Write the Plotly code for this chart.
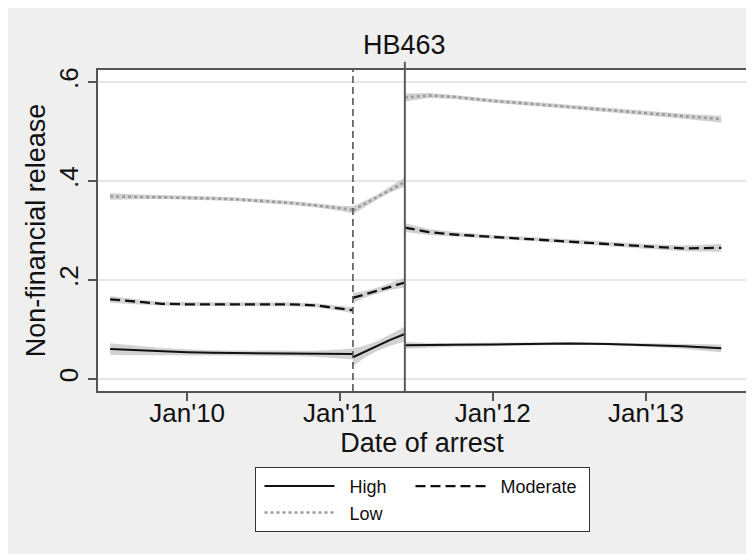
import plotly.graph_objects as go

# ---------------- data ----------------
pre_dates = ["2009-07-01", "2009-09-01", "2009-11-01", "2010-01-01", "2010-03-01", "2010-05-01",
             "2010-07-01", "2010-09-01", "2010-11-01", "2011-01-01", "2011-02-01"]
mid_dates = ["2011-02-01", "2011-03-01", "2011-04-01", "2011-05-01", "2011-06-05"]
post_dates = ["2011-06-05", "2011-08-01", "2011-10-01", "2012-01-01", "2012-04-01", "2012-07-01",
              "2012-10-01", "2013-01-01", "2013-04-01", "2013-06-30"]

high_pre = [0.0605, 0.058, 0.0555, 0.054, 0.053, 0.0525, 0.052, 0.0515, 0.051, 0.0505, 0.0505]
high_pre_hw = [0.012, 0.009, 0.007, 0.006, 0.005, 0.005, 0.005, 0.005, 0.006, 0.009, 0.011]
high_mid = [0.044, 0.055, 0.067, 0.079, 0.091]
high_mid_hw = [0.018, 0.012, 0.010, 0.012, 0.015]
high_post = [0.068, 0.068, 0.069, 0.070, 0.071, 0.072, 0.071, 0.069, 0.066, 0.062]
high_post_hw = [0.007, 0.005, 0.004, 0.003, 0.003, 0.003, 0.003, 0.004, 0.005, 0.008]

mod_pre = [0.161, 0.156, 0.152, 0.151, 0.151, 0.151, 0.151, 0.151, 0.149, 0.143, 0.139]
mod_pre_hw = [0.007, 0.005, 0.004, 0.004, 0.004, 0.004, 0.004, 0.004, 0.004, 0.005, 0.006]
mod_mid = [0.164, 0.171, 0.179, 0.187, 0.195]
mod_mid_hw = [0.010, 0.007, 0.006, 0.007, 0.010]
mod_post = [0.306, 0.297, 0.292, 0.287, 0.283, 0.278, 0.273, 0.268, 0.264, 0.265]
mod_post_hw = [0.009, 0.006, 0.005, 0.004, 0.004, 0.004, 0.004, 0.005, 0.006, 0.008]

low_pre = [0.369, 0.368, 0.368, 0.367, 0.365, 0.363, 0.360, 0.356, 0.351, 0.345, 0.342]
low_pre_hw = [0.007, 0.005, 0.004, 0.004, 0.004, 0.004, 0.004, 0.004, 0.004, 0.005, 0.007]
low_mid = [0.341, 0.354, 0.368, 0.383, 0.398]
low_mid_hw = [0.008, 0.006, 0.005, 0.006, 0.009]
low_post = [0.569, 0.573, 0.570, 0.562, 0.556, 0.550, 0.544, 0.537, 0.531, 0.525]
low_post_hw = [0.008, 0.005, 0.004, 0.004, 0.004, 0.004, 0.004, 0.004, 0.005, 0.007]

law_date = "2011-02-01"        # dashed line
effective_date = "2011-06-05"  # solid line (HB463)

x_tickvals = ["2010-01-01", "2011-01-01", "2012-01-01", "2013-01-01"]
x_ticktext = ["Jan'10", "Jan'11", "Jan'12", "Jan'13"]
y_tickvals = [0, 0.2, 0.4, 0.6]
y_ticktext = ["0", ".2", ".4", ".6"]

# ---------------- figure ----------------
FONT = "Liberation Sans, Arial, Helvetica, sans-serif"
BAND = "rgba(195,195,195,0.75)"
PAD = "\u00a0\u00a0"
TICK_SIZE = 26
TITLE_SIZE = 27

fig = go.Figure()

series = [
    ("High", [high_pre, high_mid, high_post], [high_pre_hw, high_mid_hw, high_post_hw],
     dict(color="#111111", width=2), "g1", 61),
    ("Moderate", [mod_pre, mod_mid, mod_post], [mod_pre_hw, mod_mid_hw, mod_post_hw],
     dict(color="#111111", width=2.3, dash="10px,5px"), "g2", 93),
    ("Low", [low_pre, low_mid, low_post], [low_pre_hw, low_mid_hw, low_post_hw],
     dict(color="#9c9c9c", width=2.6, dash="dot"), "g1", 61),
]
date_sets = [pre_dates, mid_dates, post_dates]

# confidence bands first
for name, ests, hws, line, grp, lw in series:
    for dts, est, hw in zip(date_sets, ests, hws):
        upper = [e + h for e, h in zip(est, hw)]
        lower = [e - h for e, h in zip(est, hw)]
        fig.add_trace(go.Scatter(
            x=list(dts) + list(dts)[::-1], y=upper + lower[::-1],
            fill="toself", fillcolor=BAND, line=dict(width=0),
            mode="lines", showlegend=False, hoverinfo="skip"))

# lines
for name, ests, hws, line, grp, lw in series:
    xs, ys = [], []
    for i, (dts, est) in enumerate(zip(date_sets, ests)):
        if i > 0:
            xs.append(None)
            ys.append(None)
        xs += list(dts)
        ys += list(est)
    fig.add_trace(go.Scatter(x=xs, y=ys, mode="lines", name=PAD + name, line=line,
                             connectgaps=False, legendgroup=grp, legendwidth=lw))

fig.add_shape(type="line", xref="x", yref="paper", x0=law_date, x1=law_date, y0=0, y1=1,
              line=dict(color="#555555", width=1.6, dash="7px,4px"))
fig.add_shape(type="line", xref="x", yref="paper", x0=effective_date, x1=effective_date,
              y0=0, y1=1.026, line=dict(color="#5a5a5a", width=2))

fig.add_annotation(x=effective_date, xref="x", y=1.077, yref="paper", text="HB463",
                   showarrow=False, yanchor="middle", xanchor="center",
                   font=dict(family=FONT, size=TITLE_SIZE, color="#111111"))

fig.update_layout(
    width=754, height=554,
    paper_bgcolor="#efefef", plot_bgcolor="#ffffff",
    margin=dict(l=90, r=16, t=62, b=171),
    font=dict(family=FONT, color="#111111"),
    showlegend=True,
    legend=dict(orientation="h", traceorder="grouped", x=0.5, xanchor="center",
                y=-0.2365, yanchor="top", bgcolor="#ffffff", bordercolor="#333333",
                borderwidth=1, font=dict(family=FONT, size=18, color="#111111"),
                itemwidth=70, indentation=5, entrywidthmode="pixels", tracegroupgap=0),
    xaxis=dict(type="date", range=["2009-06-02", "2013-08-28"],
               tickvals=x_tickvals, ticktext=x_ticktext, ticks="outside", ticklen=8,
               tickcolor="#555555", tickwidth=1.5, ticklabelstandoff=-10,
               showline=True, linecolor="#555555", linewidth=1.5, mirror=True,
               showgrid=False, zeroline=False,
               tickfont=dict(family=FONT, size=TICK_SIZE, color="#111111"),
               title=dict(text="Date of arrest", standoff=0,
                          font=dict(family=FONT, size=TITLE_SIZE, color="#111111")),
               automargin=False),
    yaxis=dict(range=[-0.0242, 0.6244], tickvals=y_tickvals, ticktext=y_ticktext,
               tickangle=-90, ticks="outside", ticklen=8, tickcolor="#555555", tickwidth=1.5,
               showline=True, linecolor="#555555", linewidth=1.5,
               showgrid=True, gridcolor="#e6e6e6", gridwidth=1.5, zeroline=False,
               tickfont=dict(family=FONT, size=TICK_SIZE, color="#111111"),
               title=dict(text="Non-financial release", standoff=0,
                          font=dict(family=FONT, size=TITLE_SIZE, color="#111111")),
               automargin=False),
)

fig.write_html("out.html")
